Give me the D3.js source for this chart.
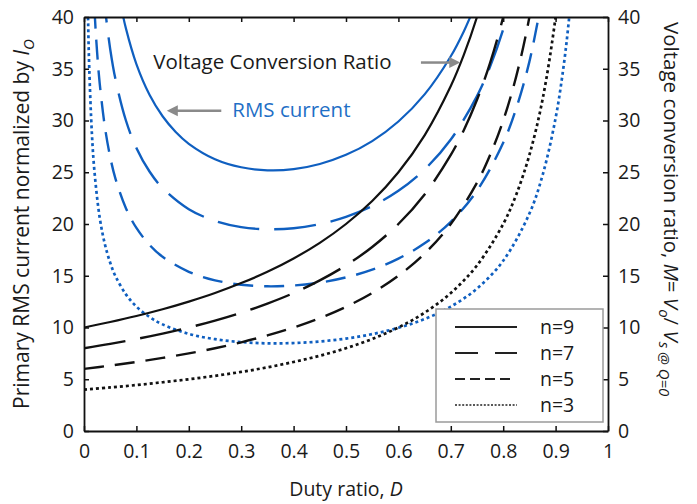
<!DOCTYPE html>
<html>
<head>
<meta charset="utf-8">
<script src="https://cdn.jsdelivr.net/npm/d3@7/dist/d3.min.js"></script>
<style>
  html, body { margin: 0; padding: 0; background: #fff; }
  svg { display: block; }
  text { font-family: 'Open Sans', 'Noto Sans', sans-serif; }
</style>
</head>
<body>
<svg id="chart" width="697" height="504"></svg>
<script>
// ---------------- DATA ----------------
const seriesNames = ["n=9", "n=7", "n=5", "n=3"];

// Voltage conversion ratio (black curves)
const ratioD9 = [0, 0.05, 0.1, 0.15, 0.2, 0.25, 0.3, 0.35, 0.4, 0.45, 0.5, 0.55, 0.6, 0.65, 0.7, 0.725, 0.75, 0.775];
const ratioM9 = [10, 10.53, 11.11, 11.76, 12.5, 13.33, 14.29, 15.38, 16.67, 18.18, 20, 22.22, 25, 28.57, 33.33, 36.36, 40, 44.44];
const ratioD7 = [0, 0.05, 0.1, 0.15, 0.2, 0.25, 0.3, 0.35, 0.4, 0.45, 0.5, 0.55, 0.6, 0.65, 0.7, 0.725, 0.75, 0.775, 0.8, 0.825];
const ratioM7 = [8, 8.42, 8.89, 9.41, 10, 10.67, 11.43, 12.31, 13.33, 14.55, 16, 17.78, 20, 22.86, 26.67, 29.09, 32, 35.56, 40, 45.71];
const ratioD5 = [0, 0.05, 0.1, 0.15, 0.2, 0.25, 0.3, 0.35, 0.4, 0.45, 0.5, 0.55, 0.6, 0.65, 0.7, 0.75, 0.775, 0.8, 0.825, 0.85, 0.875];
const ratioM5 = [6, 6.32, 6.67, 7.06, 7.5, 8, 8.57, 9.23, 10, 10.91, 12, 13.33, 15, 17.14, 20, 24, 26.67, 30, 34.29, 40, 48];
const ratioD3 = [0, 0.05, 0.1, 0.15, 0.2, 0.25, 0.3, 0.35, 0.4, 0.45, 0.5, 0.55, 0.6, 0.65, 0.7, 0.75, 0.8, 0.825, 0.85, 0.875, 0.9, 0.915];
const ratioM3 = [4, 4.21, 4.44, 4.71, 5, 5.33, 5.71, 6.15, 6.67, 7.27, 8, 8.89, 10, 11.43, 13.33, 16, 20, 22.86, 26.67, 32, 40, 47.06];

// Primary RMS current normalized by Io (blue curves)
const rmsD9 = [0.06, 0.07, 0.08, 0.1, 0.125, 0.15, 0.175, 0.2, 0.25, 0.3, 0.35, 0.4, 0.45, 0.5, 0.55, 0.6, 0.65, 0.7, 0.725, 0.75];
const rmsI9 = [44.1, 41.2, 38.9, 35.45, 32.49, 30.41, 28.89, 27.75, 26.26, 25.48, 25.19, 25.30, 25.80, 26.68, 28.01, 29.90, 32.52, 36.21, 38.63, 41.57];
const rmsD7 = [0.035, 0.04, 0.05, 0.06, 0.08, 0.1, 0.125, 0.15, 0.2, 0.25, 0.3, 0.35, 0.4, 0.45, 0.5, 0.55, 0.6, 0.65, 0.7, 0.75, 0.775, 0.8, 0.825];
const rmsI7 = [43.5, 40.9, 36.9, 34.0, 30.0, 27.35, 25.07, 23.47, 21.43, 20.30, 19.70, 19.49, 19.59, 19.99, 20.69, 21.74, 23.21, 25.27, 28.16, 32.36, 35.21, 38.81, 43.48];
const rmsD5 = [0.015, 0.02, 0.025, 0.03, 0.04, 0.05, 0.06, 0.08, 0.1, 0.125, 0.15, 0.2, 0.25, 0.3, 0.35, 0.4, 0.45, 0.5, 0.55, 0.6, 0.65, 0.7, 0.75, 0.8, 0.825, 0.85, 0.875];
const rmsI5 = [46.8, 40.7, 36.6, 33.57, 29.33, 26.47, 24.39, 21.52, 19.62, 17.98, 16.83, 15.38, 14.56, 14.13, 13.98, 14.06, 14.34, 14.84, 15.59, 16.66, 18.13, 20.21, 23.22, 27.85, 31.20, 35.69, 42.02];
const rmsD3 = [0.006, 0.008, 0.01, 0.015, 0.02, 0.03, 0.04, 0.05, 0.06, 0.08, 0.1, 0.125, 0.15, 0.2, 0.25, 0.3, 0.35, 0.4, 0.45, 0.5, 0.55, 0.6, 0.65, 0.7, 0.75, 0.8, 0.85, 0.875, 0.9, 0.915, 0.925, 0.935];
const rmsI3 = [45.2, 39.2, 35.1, 28.8, 25.05, 20.6, 18.02, 16.26, 14.97, 13.20, 12.02, 11.01, 10.30, 9.38, 8.87, 8.59, 8.47, 8.50, 8.65, 8.93, 9.36, 9.97, 10.82, 12.02, 13.76, 16.45, 21.01, 24.69, 30.23, 35.14, 39.50, 45.21];

// Axis ticks
const xTicks = [0, 0.1, 0.2, 0.3, 0.4, 0.5, 0.6, 0.7, 0.8, 0.9, 1];
const xTickLabels = ["0", "0.1", "0.2", "0.3", "0.4", "0.5", "0.6", "0.7", "0.8", "0.9", "1"];
const yTicks = [0, 5, 10, 15, 20, 25, 30, 35, 40];
const yTickLabels = ["0", "5", "10", "15", "20", "25", "30", "35", "40"];

// Annotations (data coordinates)
const annoVoltage = { text: "Voltage Conversion Ratio", x: 0.132, y: 35.0, ax0: 0.643, ax1: 0.718, ay: 35.6 };
const annoRms = { text: "RMS current", x: 0.283, y: 30.35, ax0: 0.262, ax1: 0.158, ay: 30.95 };

// ---------------- STYLE ----------------
const BLUE = "#0f5fc0";
const BLACK = "#111111";
const styles = {
  "n=9": { dash: null, width: 2.2, legendDash: null },
  "n=7": { dash: "42,15", width: 2.4, legendDash: "23,17" },
  "n=5": { dash: "20,11", width: 2.4, legendDash: "10,5,10,5,10,5,10,8,2,10" },
  "n=3": { dash: "3,3", width: 2.7, legendDash: "2,1.6" }
};

// ---------------- CHART ----------------
const svg = d3.select("#chart");
const L = 84, R = 608, T = 17, B = 431;
const x = d3.scaleLinear().domain([0, 1]).range([L, R]);
const y = d3.scaleLinear().domain([0, 40]).range([B, T]);

svg.append("defs").append("clipPath").attr("id", "plotclip")
  .append("rect").attr("x", L).attr("y", T).attr("width", R - L).attr("height", B - T);

const blackSeries = [
  { name: "n=9", d: ratioD9, v: ratioM9 },
  { name: "n=7", d: ratioD7, v: ratioM7 },
  { name: "n=5", d: ratioD5, v: ratioM5 },
  { name: "n=3", d: ratioD3, v: ratioM3 }
];
const blueSeries = [
  { name: "n=9", d: rmsD9, v: rmsI9 },
  { name: "n=7", d: rmsD7, v: rmsI7 },
  { name: "n=5", d: rmsD5, v: rmsI5 },
  { name: "n=3", d: rmsD3, v: rmsI3 }
];

const line = d3.line()
  .x(p => x(p[0])).y(p => y(p[1]))
  .curve(d3.curveCatmullRom.alpha(0.5));

const plot = svg.append("g").attr("clip-path", "url(#plotclip)");

function drawSeries(list, color) {
  list.forEach(s => {
    const pts = s.d.map((d, i) => [d, s.v[i]]);
    const st = styles[s.name];
    plot.append("path")
      .attr("d", line(pts))
      .attr("fill", "none")
      .attr("stroke", color)
      .attr("stroke-width", st.width)
      .attr("stroke-dasharray", st.dash)
      .attr("stroke-linecap", "butt");
  });
}
drawSeries(blueSeries, BLUE);
drawSeries(blackSeries, BLACK);

// Axes (inward ticks on all four sides)
const fs = 19.5;
const axL = d3.axisLeft(y).tickValues(yTicks).tickFormat((d, i) => yTickLabels[i]).tickSize(-5).tickSizeOuter(0).tickPadding(10);
const axR = d3.axisRight(y).tickValues(yTicks).tickFormat((d, i) => yTickLabels[i]).tickSize(-5).tickSizeOuter(0).tickPadding(10);
const axB = d3.axisBottom(x).tickValues(xTicks).tickFormat((d, i) => xTickLabels[i]).tickSize(-5).tickSizeOuter(0).tickPadding(13);
const axT = d3.axisTop(x).tickValues(xTicks).tickFormat("").tickSize(-5).tickSizeOuter(0);

function styleAxis(g) {
  g.select(".domain").attr("stroke", BLACK).attr("stroke-width", 1.8);
  g.selectAll(".tick line").attr("stroke", BLACK).attr("stroke-width", 1.5);
  g.selectAll(".tick text").attr("fill", "#1a1a1a").style("font-size", fs + "px")
    .style("font-family", "'Open Sans', 'Noto Sans', sans-serif");
}
svg.append("g").attr("transform", `translate(${L},0)`).call(axL).call(styleAxis);
svg.append("g").attr("transform", `translate(${R},0)`).call(axR).call(styleAxis);
svg.append("g").attr("transform", `translate(0,${B})`).call(axB).call(styleAxis);
svg.append("g").attr("transform", `translate(0,${T})`).call(axT).call(styleAxis);

// Axis titles
const xTitle = svg.append("text")
  .attr("x", (L + R) / 2).attr("y", 496)
  .attr("text-anchor", "middle").attr("fill", "#1a1a1a").style("font-size", "19.5px");
xTitle.append("tspan").text("Duty ratio, ");
xTitle.append("tspan").attr("font-style", "italic").text("D");

const yTitle = svg.append("text")
  .attr("transform", "translate(29,224) rotate(-90)")
  .attr("text-anchor", "middle").attr("fill", "#1a1a1a").style("font-size", "21px");
yTitle.append("tspan").text("Primary RMS current normalized by ");
yTitle.append("tspan").attr("font-style", "italic").text("I");
yTitle.append("tspan").attr("font-style", "italic").attr("dy", 5).style("font-size", "15px").text("O");

const y2Title = svg.append("text")
  .attr("transform", "translate(664,22) rotate(90)")
  .attr("text-anchor", "start").attr("fill", "#1a1a1a").style("font-size", "20.5px");
y2Title.append("tspan").text("Voltage conversion ratio, ");
y2Title.append("tspan").attr("font-style", "italic").text("M");
y2Title.append("tspan").text("= ");
y2Title.append("tspan").attr("font-style", "italic").text("V");
y2Title.append("tspan").attr("font-style", "italic").attr("dy", 5).style("font-size", "15px").text("o");
y2Title.append("tspan").attr("dy", -5).text("/ ");
y2Title.append("tspan").attr("font-style", "italic").text("V");
y2Title.append("tspan").attr("font-style", "italic").attr("dy", 5).style("font-size", "15px").text("s @ Q=0");

// Annotations
const GRAY = "#8a8a8a";
function arrow(x0, x1, yy) {
  const px0 = x(x0), px1 = x(x1), py = y(yy);
  const dir = Math.sign(px1 - px0);
  const head = 11;
  svg.append("line")
    .attr("x1", px0).attr("y1", py).attr("x2", px1 - dir * head * 0.8).attr("y2", py)
    .attr("stroke", GRAY).attr("stroke-width", 2.5);
  svg.append("path")
    .attr("d", `M${px1},${py} L${px1 - dir * head},${py - 5.5} L${px1 - dir * head},${py + 5.5} Z`)
    .attr("fill", GRAY);
}
svg.append("text").attr("x", x(annoVoltage.x)).attr("y", y(annoVoltage.y))
  .attr("fill", "#1a1a1a").style("font-size", "20.5px").text(annoVoltage.text);
arrow(annoVoltage.ax0, annoVoltage.ax1, annoVoltage.ay);
svg.append("text").attr("x", x(annoRms.x)).attr("y", y(annoRms.y))
  .attr("fill", "#1f6fc6").style("font-size", "20.5px").text(annoRms.text);
arrow(annoRms.ax0, annoRms.ax1, annoRms.ay);

// Legend
const lg = svg.append("g");
lg.append("rect").attr("x", 436).attr("y", 309).attr("width", 167).attr("height", 113)
  .attr("fill", "#fff").attr("stroke", "#9a9a9a").attr("stroke-width", 1.5);
seriesNames.forEach((n, i) => {
  const cy = 327 + i * 26;
  const st = styles[n];
  lg.append("line").attr("x1", 455).attr("x2", 517).attr("y1", cy).attr("y2", cy)
    .attr("stroke", "#222").attr("stroke-width", n === "n=3" ? 1.6 : 2)
    .attr("stroke-dasharray", st.legendDash);
  lg.append("text").attr("x", 540).attr("y", cy + 7)
    .attr("fill", "#1a1a1a").style("font-size", "19.5px").text(n);
});
</script>
</body>
</html>
